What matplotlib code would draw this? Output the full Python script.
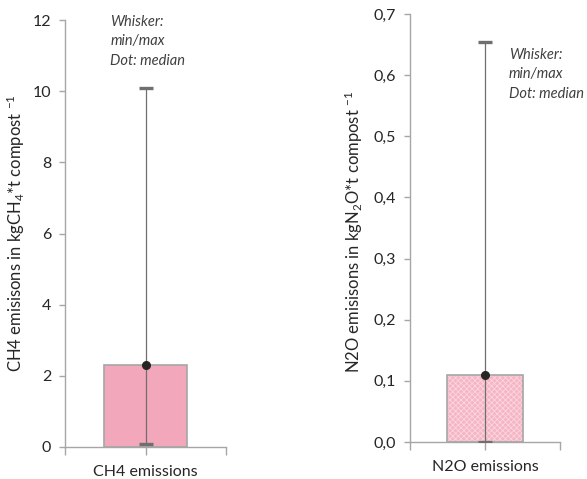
import matplotlib.pyplot as plt
from matplotlib.ticker import FuncFormatter

plt.rcParams['font.family'] = ['Lato', 'DejaVu Sans']
plt.rcParams['mathtext.default'] = 'regular'
plt.rcParams['hatch.linewidth'] = 0.6

# datos
categorias = ['CH4 emissions', 'N2O emissions']
media = [2.3, 0.11]
mediana = [2.3, 0.11]
minimo = [0.09, 0.0]
maximo = [10.1, 0.654]
ylims = [(0, 12), (0, 0.7)]
yticks = [[0, 2, 4, 6, 8, 10, 12], [0, 0.1, 0.2, 0.3, 0.4, 0.5, 0.6, 0.7]]
ylabels = ['CH4 emisisons in kgCH$_4$*t compost $^{-1}$',
           'N2O emisisons in kgN$_2$O*t compost $^{-1}$']
nota = 'Whisker:\nmin/max\nDot: median'

fig = plt.figure(figsize=(5.87, 4.79), dpi=100)
ax1 = fig.add_axes([65/587, 32/479, 161/587, 427/479])
ax2 = fig.add_axes([410/587, 37/479, 150/587, 428/479])

gris = '#A6A6A6'
texto = '#262626'

for i, ax in enumerate([ax1, ax2]):
    if i == 0:
        ax.bar(0.5, media[i], width=0.516, color='#F2A7BA', edgecolor=gris, linewidth=1.2, zorder=2)
    else:
        ax.bar(0.5, media[i], width=0.513, color='#F5B5C4', edgecolor='#FBD6DF', hatch='xxxxxx',
               linewidth=0, zorder=2)
        ax.bar(0.5, media[i], width=0.513, fill=False, edgecolor=gris, linewidth=1.2, zorder=3)
    eb = ax.errorbar(0.5, mediana[i],
                     yerr=[[mediana[i] - minimo[i]], [maximo[i] - mediana[i]]],
                     fmt='o', color='#262626', markersize=5.5, ecolor='#6F6F6F', elinewidth=0.9,
                     capsize=4.7, capthick=2.4, zorder=4)
    for cap in eb[1]:
        cap.set_color('#404040')
    ax.set_xlim(0, 1)
    ax.set_ylim(*ylims[i])
    ax.set_yticks(yticks[i])
    ax.set_xticks([0, 0.5, 1])
    ax.set_xticklabels(['', categorias[i], ''])
    for s in ['top', 'right']:
        ax.spines[s].set_visible(False)
    for s in ['left', 'bottom']:
        ax.spines[s].set_color(gris)
        ax.spines[s].set_linewidth(1.0)
    ax.tick_params(axis='y', direction='out', length=4, width=1, color=gris,
                   labelsize=11.5, labelcolor=texto, pad=6)
    ax.tick_params(axis='x', direction='out', length=6, width=1, color=gris,
                   labelsize=11.5, labelcolor=texto, pad=7)
    ax.set_ylabel(ylabels[i], fontsize=12, color=texto)

ax2.yaxis.set_major_formatter(FuncFormatter(lambda v, p: f'{v:.1f}'.replace('.', ',')))

ax1.yaxis.set_label_coords(-0.236, 0.5)
ax2.yaxis.set_label_coords(-0.30, 0.49)

ax1.text(0.28, 12.15, nota, fontsize=10.5, style='italic', color='#404040',
         va='top', ha='left', linespacing=1.5, clip_on=False)
ax2.text(0.66, 0.645, nota, fontsize=10.5, style='italic', color='#404040',
         va='top', ha='left', linespacing=1.5, clip_on=False)

plt.savefig('out.png', dpi=100)
